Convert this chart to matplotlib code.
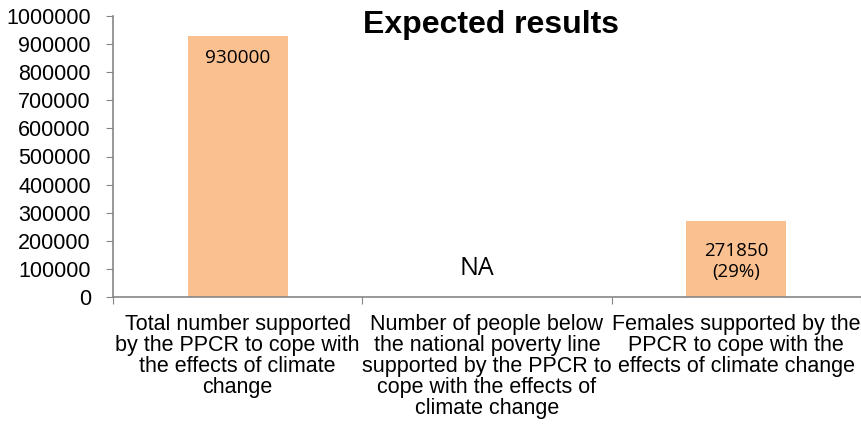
import matplotlib
matplotlib.use("Agg")
import matplotlib.pyplot as plt

categories = [
    "Total number supported\nby the PPCR to cope with\nthe effects of climate\nchange",
    "Number of people below\nthe national poverty line\nsupported by the PPCR to\ncope with the effects of\nclimate change",
    "Females supported by the\nPPCR to cope with the\neffects of climate change",
]
values = [930000, 0, 271850]
bar_labels = ["930000", "NA", "271850\n(29%)"]
yticks = list(range(0, 1000001, 100000))

plt.rcParams['font.family'] = ['Liberation Sans', 'DejaVu Sans']

fig = plt.figure(figsize=(8.62, 4.34), dpi=100)
ax = fig.add_axes([113 / 862, 1 - 297 / 434, (861 - 113) / 862, (297 - 16) / 434])

x = list(range(len(categories)))
ax.bar(x, values, width=0.4, color='#FAC090', zorder=2)

ax.set_xlim(-0.5, 2.5)
ax.set_ylim(0, 1000000)
ax.set_yticks(yticks)
ax.set_yticklabels([str(v) for v in yticks], fontsize=15.5)
ax.set_xticks([-0.5, 0.5, 1.5, 2.5])
ax.set_xticklabels([])
ax.set_xticks(x, minor=True)
ax.set_xticklabels(categories, minor=True, fontsize=15.5, linespacing=1.0, va='top')
ax.tick_params(axis='x', which='minor', length=0, pad=12.5)
ax.tick_params(axis='x', which='major', length=5, color='#868686', direction='out')
ax.tick_params(axis='y', length=5, color='#868686', direction='out', pad=11)

for s in ['top', 'right']:
    ax.spines[s].set_visible(False)
for s in ['left', 'bottom']:
    ax.spines[s].set_color('#868686')
    ax.spines[s].set_linewidth(1.2)

# data labels
ax.text(x[0], values[0] - 80000, bar_labels[0], ha='center', va='center',
        fontsize=13.7, family=['Open Sans', 'DejaVu Sans'])
ax.text(x[1] - 0.04, 100000, bar_labels[1], ha='center', va='center',
        fontsize=18, family=['Open Sans', 'DejaVu Sans'])
ax.text(x[2], 127000, bar_labels[2], ha='center', va='center',
        fontsize=13.5, family=['Open Sans', 'DejaVu Sans'], linespacing=1.2)

fig.text(491 / 862, 1 - 25 / 434, "Expected results", ha='center', va='center',
         fontsize=23, fontweight='bold')

fig.savefig("out.png", dpi=100)
